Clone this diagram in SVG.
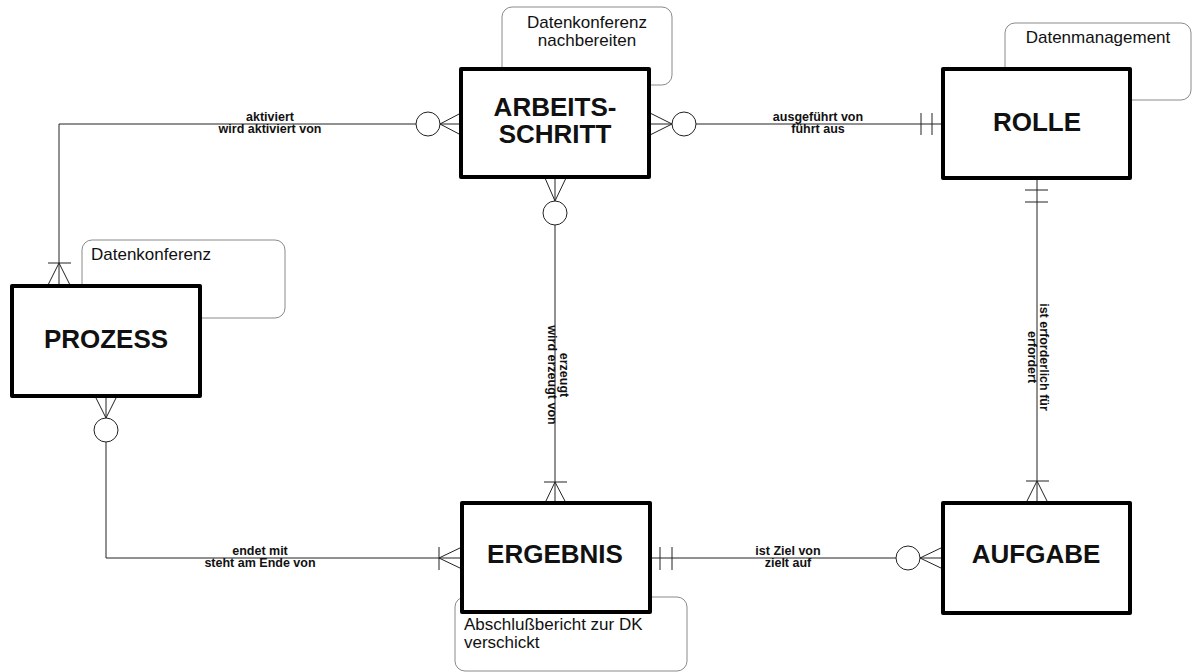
<svg xmlns="http://www.w3.org/2000/svg" width="1192" height="672" viewBox="0 0 1192 672">
<style>
.note{fill:#fff;stroke:#8a8a8a;stroke-width:1}
.nt{font-family:"Liberation Sans",Arial,sans-serif;font-size:17px;fill:#111}
.ent{fill:#fff;stroke:#000;stroke-width:4;stroke-linejoin:round}
.et{font-family:"Liberation Sans",Arial,sans-serif;font-size:26px;font-weight:bold;fill:#111;text-anchor:middle}
.ln{fill:none;stroke:#222;stroke-width:1}
.ci{fill:#fff;stroke:#222;stroke-width:1}
.lb{font-family:"Liberation Sans",Arial,sans-serif;font-size:12.5px;font-weight:bold;fill:#111;text-anchor:middle}
</style>
<rect width="1192" height="672" fill="#fff"/>
<g id="notes">
<g id="note-arbeitsschritt"><rect class="note" x="502" y="7" width="170" height="78" rx="10"/>
<text class="nt" x="587" y="28" text-anchor="middle">Datenkonferenz</text>
<text class="nt" x="587" y="46" text-anchor="middle">nachbereiten</text></g>
<g id="note-rolle"><rect class="note" x="1005" y="23" width="186" height="77" rx="10"/>
<text class="nt" x="1098" y="43" text-anchor="middle">Datenmanagement</text></g>
<g id="note-prozess"><rect class="note" x="82" y="240" width="203" height="78" rx="10"/>
<text class="nt" x="91" y="260">Datenkonferenz</text></g>
<g id="note-ergebnis"><rect class="note" x="455" y="597" width="232" height="74" rx="10"/>
<text class="nt" x="464" y="630">Abschlußbericht zur DK</text>
<text class="nt" x="464" y="648">verschickt</text></g>
</g>
<g id="connectors">
<path class="ln" d="M59,285 V124 H416 M440,124 H461 M440,124 L461,113 M440,124 L461,135 M48,263 H71 M59,263 L48,285 M59,263 L70,285"/>
<circle class="ci" cx="428" cy="124" r="12"/>
<text class="lb" x="270" y="121">aktiviert</text>
<text class="lb" x="270" y="133">wird aktiviert von</text>
<path class="ln" d="M649,124 H672 M650,113 L672,124 M650,135 L672,124 M696,124 H943 M921,113 V135 M932,113 V135"/>
<circle class="ci" cx="684" cy="124" r="12"/>
<text class="lb" x="818" y="121">ausgeführt von</text>
<text class="lb" x="818" y="133">führt aus</text>
<path class="ln" d="M1037,178 V503 M1025,190 H1048 M1025,202 H1048 M1026,481 H1049 M1037,481 L1026,503 M1037,481 L1048,503"/>
<g transform="translate(1040,357) rotate(90)">
<text class="lb" x="0" y="0">ist erforderlich für</text>
<text class="lb" x="0" y="12">erfordert</text></g>
<path class="ln" d="M555,177 V201 M545,178 L555,201 M566,178 L555,201 M555,225 V503 M544,482 H567 M555,482 L545,503 M555,482 L566,503"/>
<circle class="ci" cx="555" cy="213" r="12"/>
<g transform="translate(560,375) rotate(90)">
<text class="lb" x="0" y="0">erzeugt</text>
<text class="lb" x="0" y="12">wird erzeugt von</text></g>
<path class="ln" d="M106,396 V418 M95,396 L106,418 M117,396 L106,418 M106,442 V558 H462 M439,547 V570 M439,558 L462,547 M439,558 L462,569"/>
<circle class="ci" cx="106" cy="430" r="12"/>
<text class="lb" x="260" y="555">endet mit</text>
<text class="lb" x="260" y="567">steht am Ende von</text>
<path class="ln" d="M650,558 H896 M660,547 V570 M672,547 V570 M920,558 H943 M920,558 L943,547 M920,558 L943,569"/>
<circle class="ci" cx="908" cy="558" r="12"/>
<text class="lb" x="788" y="555">ist Ziel von</text>
<text class="lb" x="788" y="567">zielt auf</text>
</g>
<g id="arbeitsschritt"><rect class="ent" x="461" y="69" width="188" height="108"/>
<text class="et" x="555" y="116">ARBEITS-</text><text class="et" x="555" y="143">SCHRITT</text></g>
<g id="rolle"><rect class="ent" x="943" y="69" width="187" height="109"/>
<text class="et" x="1037" y="131">ROLLE</text></g>
<g id="prozess"><rect class="ent" x="12" y="286" width="188" height="110"/>
<text class="et" x="106" y="348">PROZESS</text></g>
<g id="ergebnis"><rect class="ent" x="462" y="503" width="188" height="109"/>
<text class="et" x="555" y="563">ERGEBNIS</text></g>
<g id="aufgabe"><rect class="ent" x="943" y="503" width="187" height="110"/>
<text class="et" x="1036" y="563">AUFGABE</text></g>
</svg>
